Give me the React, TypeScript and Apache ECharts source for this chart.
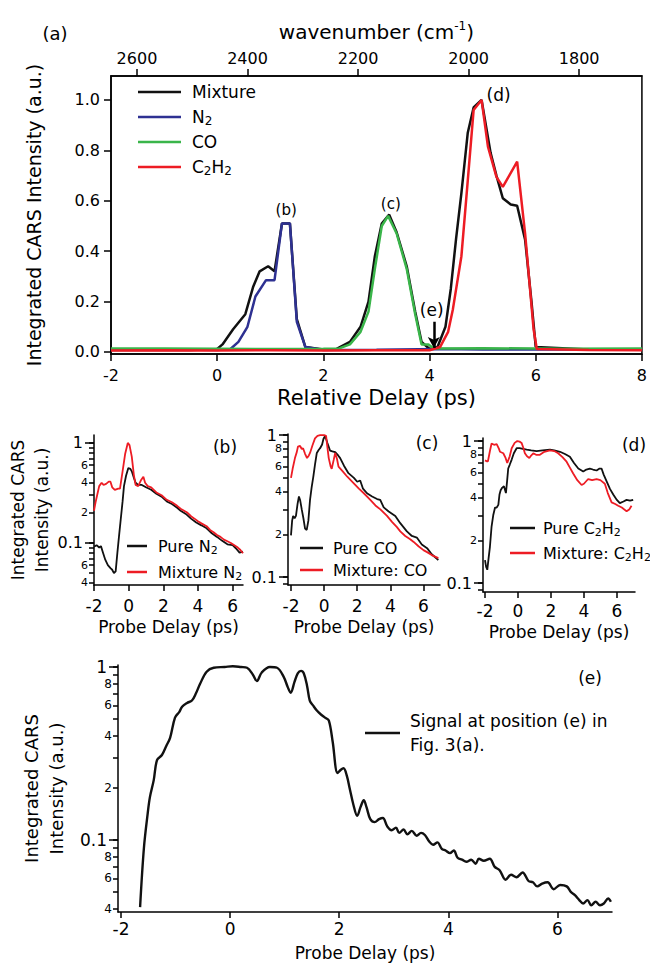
import React, { useEffect, useRef } from 'react';
import * as echarts from 'echarts';

const FONT = "'DejaVu Sans', sans-serif";
const BLACK = '#111111';
const BLUE = '#2e3192';
const GREEN = '#3ab54a';
const RED = '#ed1c24';

// ---------- Panel (a) ----------
const relDelayTicks = [-2, 0, 2, 4, 6, 8];
const wavenumberTicks = [1800, 2000, 2200, 2400, 2600];
const intensityTicks = [0, 0.2, 0.4, 0.6, 0.8, 1.0];

const mixtureA: [number, number][] = [
  [-2, 0.008], [-1.2, 0.009], [-0.5, 0.008], [0, 0.012], [0.1, 0.03], [0.3, 0.09], [0.53, 0.15],
  [0.68, 0.26], [0.8, 0.32], [0.96, 0.34], [1.08, 0.32], [1.22, 0.51], [1.37, 0.51], [1.5, 0.13],
  [1.66, 0.02], [2.0, 0.01], [2.25, 0.012], [2.5, 0.04], [2.7, 0.1], [2.85, 0.2], [2.97, 0.38],
  [3.1, 0.51], [3.24, 0.545], [3.38, 0.475], [3.57, 0.34], [3.73, 0.16], [3.85, 0.04], [4.0, 0.012],
  [4.15, 0.02], [4.3, 0.1], [4.4, 0.25], [4.5, 0.45], [4.6, 0.63], [4.72, 0.87], [4.83, 0.97],
  [4.98, 1.0], [5.15, 0.79], [5.26, 0.7], [5.38, 0.61], [5.53, 0.585], [5.65, 0.58], [5.8, 0.445],
  [5.92, 0.2], [6.0, 0.02], [7, 0.01], [8, 0.01],
];
const n2A: [number, number][] = [
  [-2, 0.009], [-1, 0.011], [0, 0.008], [0.25, 0.012], [0.4, 0.04], [0.57, 0.1], [0.72, 0.22],
  [0.92, 0.285], [1.08, 0.285], [1.22, 0.51], [1.37, 0.51], [1.5, 0.12], [1.66, 0.02], [2.0, 0.008],
  [3.0, 0.009], [4.2, 0.012], [5.0, 0.01], [6.5, 0.011], [8, 0.009],
];
const coA: [number, number][] = [
  [-2, 0.014], [-1, 0.014], [0, 0.013], [1, 0.012], [2, 0.013], [2.3, 0.014], [2.5, 0.03],
  [2.7, 0.08], [2.85, 0.16], [2.97, 0.33], [3.1, 0.5], [3.22, 0.54], [3.38, 0.47], [3.57, 0.33],
  [3.73, 0.15], [3.85, 0.03], [3.98, 0.03], [4.08, 0.014], [5, 0.015], [6.5, 0.013], [8, 0.014],
];
const c2h2A: [number, number][] = [
  [-2, 0.006], [-1, 0.007], [0, 0.006], [1, 0.007], [2, 0.006], [3, 0.007], [4.0, 0.007],
  [4.2, 0.02], [4.35, 0.08], [4.44, 0.17], [4.6, 0.38], [4.71, 0.655], [4.83, 0.96], [4.98, 1.0],
  [5.1, 0.815], [5.26, 0.695], [5.38, 0.655], [5.65, 0.755], [5.8, 0.47], [5.96, 0.09],
  [6.02, 0.012], [7, 0.008], [8, 0.007],
];
const peakMarks = [
  { name: '(b)', coord: [1.3, 0.563], size: 15 },
  { name: '(c)', coord: [3.27, 0.587], size: 15 },
  { name: '(d)', coord: [5.3, 1.02], size: 17 },
  { name: '(e)', coord: [4.04, 0.167], size: 17 },
];
const arrowE = [[4.08, 0.12], [4.08, 0.016]];

// ---------- Panels (b)(c)(d)(e): log axes ----------
const probeTicks = [-2, 0, 2, 4, 6];
const logTicksB = [0.04, 0.05, 0.06, 0.07, 0.08, 0.09, 0.1, 0.2, 0.3, 0.4, 0.5, 0.6, 0.7, 0.8, 0.9, 1];
const logLabelsB = [0.04, 0.06, 0.1, 0.2, 0.4, 0.6, 1];
const logTicksCD = [0.09, 0.1, 0.2, 0.3, 0.4, 0.5, 0.6, 0.7, 0.8, 0.9, 1];
const logLabelsCD = [0.1, 0.2, 0.4, 0.6, 0.8, 1];
const logTicksE = [0.04, 0.05, 0.06, 0.07, 0.08, 0.09, 0.1, 0.2, 0.3, 0.4, 0.5, 0.6, 0.7, 0.8, 0.9, 1];
const logLabelsE = [0.04, 0.06, 0.08, 0.1, 0.2, 0.4, 0.6, 0.8, 1];
const majorLogTicks = [0.1, 1];

const pureN2: [number, number][] = [
  [-2.0, 0.092], [-1.85, 0.095], [-1.7, 0.09], [-1.6, 0.093], [-1.48, 0.08], [-1.35, 0.068],
  [-1.2, 0.06], [-1.05, 0.056], [-0.95, 0.054], [-0.85, 0.05], [-0.75, 0.052], [-0.65, 0.08],
  [-0.55, 0.12], [-0.46, 0.17], [-0.35, 0.26], [-0.27, 0.37], [-0.15, 0.47], [-0.02, 0.56],
  [0.1, 0.55], [0.18, 0.52], [0.3, 0.45], [0.4, 0.4], [0.55, 0.38], [0.76, 0.38], [1.0, 0.36],
  [1.3, 0.34], [1.6, 0.31], [1.9, 0.29], [2.2, 0.26], [2.5, 0.245], [2.8, 0.225], [3.0, 0.21],
  [3.3, 0.195], [3.6, 0.175], [3.9, 0.16], [4.2, 0.15], [4.5, 0.14], [4.8, 0.125], [5.1, 0.115],
  [5.4, 0.105], [5.7, 0.097], [6.0, 0.095], [6.2, 0.088], [6.4, 0.08], [6.6, 0.082],
];
const mixN2: [number, number][] = [
  [-2.0, 0.21], [-1.9, 0.26], [-1.8, 0.31], [-1.7, 0.37], [-1.56, 0.4], [-1.45, 0.38], [-1.3, 0.39],
  [-1.15, 0.41], [-1.05, 0.41], [-0.95, 0.36], [-0.8, 0.34], [-0.6, 0.35], [-0.5, 0.35],
  [-0.35, 0.52], [-0.2, 0.78], [-0.05, 1.0], [0.05, 0.95], [0.18, 0.73], [0.3, 0.48], [0.4, 0.38],
  [0.55, 0.37], [0.7, 0.42], [0.85, 0.46], [0.95, 0.4], [1.1, 0.37], [1.3, 0.36], [1.6, 0.32],
  [1.9, 0.3], [2.2, 0.27], [2.5, 0.255], [2.8, 0.235], [3.0, 0.22], [3.2, 0.21], [3.4, 0.2],
  [3.6, 0.185], [3.8, 0.175], [4.0, 0.165], [4.2, 0.157], [4.5, 0.147], [4.7, 0.135],
  [4.9, 0.128], [5.1, 0.12], [5.3, 0.115], [5.5, 0.108], [5.7, 0.104], [5.9, 0.1], [6.1, 0.095],
  [6.3, 0.09], [6.45, 0.085], [6.6, 0.079],
];
const pureCO: [number, number][] = [
  [-2.0, 0.197], [-1.93, 0.25], [-1.87, 0.27], [-1.78, 0.26], [-1.7, 0.27], [-1.6, 0.33],
  [-1.52, 0.37], [-1.45, 0.35], [-1.35, 0.3], [-1.25, 0.26], [-1.15, 0.22], [-1.05, 0.215],
  [-0.95, 0.25], [-0.85, 0.35], [-0.75, 0.43], [-0.65, 0.51], [-0.55, 0.62], [-0.44, 0.75],
  [-0.32, 0.79], [-0.24, 0.81], [-0.12, 0.86], [-0.04, 0.94], [0.06, 0.99], [0.2, 0.88],
  [0.36, 0.78], [0.5, 0.77], [0.67, 0.76], [0.85, 0.72], [0.97, 0.69], [1.2, 0.61], [1.47, 0.54],
  [1.8, 0.5], [2.0, 0.47], [2.18, 0.48], [2.35, 0.42], [2.59, 0.39], [2.9, 0.37], [3.2, 0.355],
  [3.39, 0.35], [3.6, 0.31], [3.9, 0.29], [4.3, 0.27], [4.6, 0.24], [5.0, 0.21], [5.3, 0.195],
  [5.6, 0.19], [5.9, 0.17], [6.22, 0.16], [6.5, 0.145], [6.9, 0.132],
];
const mixCO: [number, number][] = [
  [-2.0, 0.5], [-1.9, 0.58], [-1.76, 0.69], [-1.65, 0.76], [-1.58, 0.83], [-1.45, 0.84],
  [-1.35, 0.8], [-1.27, 0.81], [-1.15, 0.74], [-1.03, 0.69], [-0.92, 0.72], [-0.85, 0.75],
  [-0.7, 0.85], [-0.55, 0.95], [-0.4, 0.99], [-0.24, 1.0], [0.0, 1.0], [0.12, 0.99], [0.2, 0.82],
  [0.28, 0.69], [0.4, 0.6], [0.46, 0.58], [0.58, 0.67], [0.67, 0.75], [0.78, 0.68], [0.87, 0.6],
  [1.1, 0.56], [1.4, 0.51], [1.78, 0.46], [2.1, 0.42], [2.4, 0.39], [2.79, 0.35], [3.1, 0.32],
  [3.4, 0.3], [3.8, 0.27], [4.1, 0.245], [4.4, 0.225], [4.6, 0.21], [4.9, 0.195], [5.2, 0.185],
  [5.41, 0.177], [5.7, 0.165], [6.0, 0.155], [6.22, 0.15], [6.5, 0.143], [6.9, 0.136],
];
const pureC2H2: [number, number][] = [
  [-2.0, 0.145], [-1.93, 0.13], [-1.86, 0.124], [-1.78, 0.15], [-1.7, 0.18], [-1.6, 0.25],
  [-1.5, 0.3], [-1.39, 0.34], [-1.29, 0.34], [-1.19, 0.355], [-1.12, 0.42], [-1.05, 0.45],
  [-0.95, 0.47], [-0.85, 0.48], [-0.73, 0.43], [-0.66, 0.52], [-0.59, 0.64], [-0.5, 0.68],
  [-0.38, 0.74], [-0.25, 0.82], [-0.08, 0.89], [0.1, 0.89], [0.3, 0.88], [0.53, 0.87], [0.8, 0.86],
  [1.13, 0.85], [1.5, 0.86], [1.94, 0.87], [2.2, 0.86], [2.55, 0.84], [2.85, 0.81], [3.15, 0.775],
  [3.4, 0.7], [3.66, 0.64], [3.96, 0.61], [4.15, 0.63], [4.36, 0.64], [4.55, 0.63], [4.77, 0.62],
  [4.95, 0.64], [5.07, 0.64], [5.2, 0.58], [5.38, 0.52], [5.58, 0.46], [5.78, 0.42], [6.0, 0.385],
  [6.18, 0.365], [6.4, 0.375], [6.59, 0.385], [6.8, 0.38], [6.99, 0.385],
];
const mixC2H2: [number, number][] = [
  [-2.0, 0.73], [-1.9, 0.72], [-1.82, 0.72], [-1.7, 0.85], [-1.6, 0.96], [-1.45, 0.94],
  [-1.29, 0.95], [-1.15, 0.88], [-1.09, 0.84], [-0.89, 0.82], [-0.75, 0.76], [-0.65, 0.7],
  [-0.5, 0.78], [-0.38, 0.89], [-0.2, 0.97], [-0.04, 1.0], [0.1, 0.99], [0.22, 0.97], [0.32, 0.9],
  [0.42, 0.82], [0.55, 0.78], [0.69, 0.76], [0.8, 0.79], [0.93, 0.82], [1.1, 0.8], [1.33, 0.8],
  [1.6, 0.84], [1.94, 0.86], [2.2, 0.85], [2.44, 0.82], [2.7, 0.77], [2.95, 0.715], [3.15, 0.65],
  [3.35, 0.59], [3.6, 0.53], [3.86, 0.49], [4.0, 0.5], [4.26, 0.54], [4.5, 0.53], [4.77, 0.54],
  [5.0, 0.53], [5.27, 0.5], [5.45, 0.43], [5.68, 0.37], [5.9, 0.36], [6.08, 0.35], [6.3, 0.34],
  [6.59, 0.32], [6.75, 0.33], [6.89, 0.35],
];
const signalE: [number, number][] = [
  [-1.65, 0.041], [-1.58, 0.09], [-1.51, 0.143], [-1.47, 0.177], [-1.4, 0.222], [-1.34, 0.29],
  [-1.25, 0.31], [-1.17, 0.35], [-1.1, 0.39], [-1.01, 0.51], [-0.93, 0.55], [-0.88, 0.59],
  [-0.79, 0.62], [-0.7, 0.64], [-0.63, 0.7], [-0.55, 0.8], [-0.43, 0.94], [-0.3, 0.99],
  [-0.1, 1.0], [0.05, 1.01], [0.2, 1.0], [0.31, 0.99], [0.42, 0.9], [0.49, 0.83], [0.58, 0.93],
  [0.73, 1.0], [0.86, 0.99], [0.98, 0.88], [1.06, 0.76], [1.11, 0.71], [1.18, 0.82], [1.24, 0.92],
  [1.3, 0.95], [1.35, 0.92], [1.41, 0.78], [1.46, 0.64], [1.52, 0.6], [1.59, 0.56], [1.67, 0.53],
  [1.74, 0.51], [1.81, 0.49], [1.88, 0.37], [1.97, 0.244], [2.03, 0.255], [2.08, 0.26],
  [2.14, 0.235], [2.19, 0.2], [2.26, 0.16], [2.33, 0.138], [2.39, 0.155], [2.45, 0.17],
  [2.5, 0.155], [2.57, 0.132], [2.65, 0.127], [2.73, 0.132], [2.8, 0.134], [2.88, 0.12],
  [2.96, 0.114], [3.04, 0.118], [3.1, 0.11], [3.18, 0.115], [3.25, 0.108], [3.33, 0.113],
  [3.42, 0.106], [3.5, 0.11], [3.57, 0.107], [3.65, 0.098], [3.72, 0.094], [3.8, 0.097],
  [3.88, 0.089], [3.95, 0.087], [4.03, 0.084], [4.1, 0.087], [4.17, 0.079], [4.25, 0.077],
  [4.33, 0.075], [4.42, 0.077], [4.5, 0.073], [4.56, 0.078], [4.65, 0.076], [4.76, 0.078],
  [4.85, 0.07], [4.94, 0.067], [5.05, 0.059], [5.15, 0.063], [5.25, 0.061], [5.36, 0.065],
  [5.47, 0.058], [5.55, 0.057], [5.63, 0.054], [5.72, 0.056], [5.82, 0.057], [5.93, 0.052],
  [6.05, 0.055], [6.17, 0.054], [6.25, 0.05], [6.32, 0.048], [6.4, 0.045], [6.47, 0.043],
  [6.55, 0.045], [6.62, 0.042], [6.7, 0.044], [6.78, 0.042], [6.85, 0.043], [6.93, 0.046],
  [6.98, 0.044],
];

const subFmt = (s: string) =>
  s.replace(/C2H2/g, 'C{sub|2}H{sub|2}').replace(/N2/g, 'N{sub|2}');

const logLabel = (v: number) => {
  if (Math.abs(v - 1) < 1e-6) return '{big|1}';
  if (Math.abs(v - 0.1) < 1e-6) return '{big|0.1}';
  const e = Math.floor(Math.log10(v) + 1e-9);
  const m = Math.round(v / Math.pow(10, e));
  return '{small|' + m + '}';
};

const axisLineStyle = { color: '#000', width: 1.5 };

function probeX(gridIndex: number, min: number, max: number, margin: number, nameGap: number, fs: number, nfs: number) {
  return {
    type: 'value', gridIndex, min, max,
    axisLine: { show: true, onZero: false, lineStyle: axisLineStyle },
    axisTick: { show: true, customValues: probeTicks, length: 6, lineStyle: axisLineStyle },
    axisLabel: { customValues: probeTicks, fontSize: fs, margin, color: '#000', fontFamily: FONT, formatter: (v: number) => String(v) },
    splitLine: { show: false },
    name: 'Probe Delay (ps)', nameLocation: 'middle', nameGap,
    nameTextStyle: { fontSize: nfs, color: '#000', fontFamily: FONT },
  };
}

function logY(gridIndex: number, min: number, max: number, ticks: number[], labels: number[], big: number, small: number, name?: string, nameGap?: number, nfs?: number, nlh?: number) {
  const ax: any = {
    type: 'log', logBase: 10, gridIndex, min, max,
    axisLine: { show: true, onZero: false, lineStyle: axisLineStyle },
    axisTick: { show: true, customValues: ticks, length: 5, lineStyle: axisLineStyle },
    axisLabel: {
      customValues: labels, margin: 6, color: '#000', formatter: logLabel,
      rich: {
        big: { fontSize: big, fontFamily: FONT, color: '#000', padding: [0, 5, 0, 0] },
        small: { fontSize: small, fontFamily: FONT, color: '#000' },
      },
    },
    splitLine: { show: false },
    minorTick: { show: false },
  };
  if (name) {
    ax.name = name;
    ax.nameLocation = 'middle';
    ax.nameRotate = 90;
    ax.nameGap = nameGap;
    ax.nameTextStyle = { fontSize: nfs, lineHeight: nlh, color: '#000', fontFamily: FONT, align: 'center' };
  }
  return ax;
}

function majorY(gridIndex: number, min: number, max: number) {
  return {
    type: 'log', logBase: 10, gridIndex, min, max, position: 'left',
    axisLine: { show: false, onZero: false },
    axisTick: { show: true, customValues: majorLogTicks, length: 9, lineStyle: axisLineStyle },
    axisLabel: { show: false },
    splitLine: { show: false },
  };
}

function lineSeries(name: string, data: [number, number][], color: string, xi: number, yi: number, width: number, smooth: number | boolean = false) {
  return {
    type: 'line', name, data, xAxisIndex: xi, yAxisIndex: yi, showSymbol: false, symbol: 'none',
    smooth, color, lineStyle: { color, width }, itemStyle: { color }, silent: true,
  };
}

function legend(names: string[], left: number, top: number, iw: number, gap: number, fs: number, padLeft: number) {
  return {
    show: true, orient: 'vertical', left, top, data: names, icon: 'rect',
    itemWidth: iw, itemHeight: 2.5, itemGap: gap, selectedMode: false, padding: 0,
    formatter: subFmt,
    textStyle: {
      fontSize: fs, fontFamily: FONT, color: '#000', lineHeight: 20, padding: [0, 0, 0, padLeft],
      rich: { sub: { fontSize: Math.round(fs * 0.68), fontFamily: FONT, color: '#000', lineHeight: 10, verticalAlign: 'bottom' } },
    },
  };
}

export default function App() {
  const ref = useRef<HTMLDivElement>(null);
  useEffect(() => {
    document.body.style.margin = '0';
    const chart = echarts.init(ref.current!, null, { renderer: 'svg' });

    const mixtureSeries: any = lineSeries('Mixture', mixtureA, BLACK, 0, 0, 2.5);
    mixtureSeries.markPoint = {
      symbol: 'circle', symbolSize: 1, itemStyle: { color: 'rgba(0,0,0,0)' }, silent: true,
      data: peakMarks.map((p) => ({
        name: p.name, coord: p.coord,
        label: { show: true, position: 'inside', formatter: p.name, fontSize: p.size, fontFamily: FONT, color: '#000' },
      })),
    };
    mixtureSeries.markLine = {
      silent: true, symbol: ['none', 'arrow'], symbolSize: [9, 11],
      lineStyle: { color: '#000', width: 2.5, type: 'solid' }, label: { show: false },
      data: [[{ coord: arrowE[0] }, { coord: arrowE[1] }]],
    };

    const option: any = {
      animation: false,
      backgroundColor: '#fff',
      textStyle: { fontFamily: FONT, color: '#000' },
      grid: [
        { left: 111, top: 76, width: 533, height: 278, show: true, borderColor: '#000', borderWidth: 1.5, backgroundColor: 'transparent' },
        { left: 94, top: 435, width: 149, height: 150 },
        { left: 288, top: 434, width: 152, height: 151 },
        { left: 483, top: 438, width: 152, height: 154 },
        { left: 118, top: 665, width: 494, height: 247 },
      ],
      xAxis: [
        {
          type: 'value', gridIndex: 0, min: -2, max: 8,
          axisLine: { show: true, onZero: false, lineStyle: axisLineStyle },
          axisTick: { show: true, customValues: relDelayTicks, length: 7, lineStyle: axisLineStyle },
          axisLabel: { customValues: relDelayTicks, fontSize: 16, margin: 13, color: '#000', fontFamily: FONT, formatter: (v: number) => String(v) },
          splitLine: { show: false },
          name: 'Relative Delay (ps)', nameLocation: 'middle', nameGap: 33,
          nameTextStyle: { fontSize: 21, color: '#000', fontFamily: FONT },
        },
        {
          type: 'value', gridIndex: 0, position: 'top', min: 1686.5, max: 2647, inverse: true,
          axisLine: { show: true, onZero: false, lineStyle: axisLineStyle },
          axisTick: { show: true, customValues: wavenumberTicks, length: 7, lineStyle: axisLineStyle },
          axisLabel: { customValues: wavenumberTicks, fontSize: 16, margin: 10, color: '#000', fontFamily: FONT, formatter: (v: number) => String(v) },
          splitLine: { show: false },
          name: 'wavenumber (cm{sup|-1})', nameLocation: 'middle', nameGap: 32,
          nameTextStyle: {
            fontSize: 20, color: '#000', fontFamily: FONT, lineHeight: 24,
            rich: { sup: { fontSize: 12, fontFamily: FONT, color: '#000', lineHeight: 12, verticalAlign: 'top' } },
          },
        },
        probeX(1, -2, 6.6, 12, 33, 17, 17),
        probeX(2, -2.18, 7.0, 12, 33, 17, 17),
        probeX(3, -2.12, 7.1, 10, 31, 17, 17),
        probeX(4, -2.055, 7.0, 8, 32, 17, 17),
      ],
      yAxis: [
        {
          type: 'value', gridIndex: 0, min: -0.008, max: 1.095,
          axisLine: { show: true, onZero: false, lineStyle: axisLineStyle },
          axisTick: { show: true, customValues: intensityTicks, length: 7, lineStyle: axisLineStyle },
          axisLabel: { customValues: intensityTicks, fontSize: 16, margin: 11, color: '#000', fontFamily: FONT, formatter: (v: number) => v.toFixed(1) },
          splitLine: { show: false },
          name: 'Integrated CARS Intensity (a.u.)', nameLocation: 'middle', nameRotate: 90, nameGap: 68,
          nameTextStyle: { fontSize: 19, color: '#000', fontFamily: FONT },
        },
        logY(1, 0.038, 1.2, logTicksB, logLabelsB, 16, 11, 'Integrated CARS\nIntensity (a.u.)', 38, 17, 24),
        logY(2, 0.088, 1.02, logTicksCD, logLabelsCD, 16, 11),
        logY(3, 0.0865, 1.05, logTicksCD, logLabelsCD, 16, 11),
        logY(4, 0.0384, 1.027, logTicksE, logLabelsE, 17, 12, 'Integrated CARS\nIntensity (a.u.)', 29, 18, 25),
        majorY(1, 0.038, 1.2),
        majorY(2, 0.088, 1.02),
        majorY(3, 0.0865, 1.05),
        majorY(4, 0.0384, 1.027),
      ],
      legend: [
        legend(['Mixture', 'N2', 'CO', 'C2H2'], 138, 82, 43, 5, 17, 6),
        legend(['Pure N2', 'Mixture N2'], 127, 536, 20, 6, 16, 6),
        legend(['Pure CO', 'Mixture: CO'], 300, 538, 23, 2, 16, 5),
        legend(['Pure C2H2', 'Mixture: C2H2'], 510, 518, 25, 5, 16, 3),
        {
          show: true, orient: 'vertical', left: 365, top: 697, data: ['Signal at position (e) in\nFig. 3(a).'],
          icon: 'rect', itemWidth: 35, itemHeight: 2.5, selectedMode: false, padding: 0,
          textStyle: { fontSize: 17, fontFamily: FONT, color: '#000', lineHeight: 24, padding: [24, 0, 0, 5] },
        },
      ],
      graphic: [
        { type: 'text', x: 55, y: 33, style: { text: '(a)', fontSize: 18, fontFamily: FONT, fill: '#000', textAlign: 'center', textVerticalAlign: 'middle' } },
        { type: 'text', x: 225, y: 447, style: { text: '(b)', fontSize: 17, fontFamily: FONT, fill: '#000', textAlign: 'center', textVerticalAlign: 'middle' } },
        { type: 'text', x: 427, y: 443, style: { text: '(c)', fontSize: 17, fontFamily: FONT, fill: '#000', textAlign: 'center', textVerticalAlign: 'middle' } },
        { type: 'text', x: 634, y: 445, style: { text: '(d)', fontSize: 17, fontFamily: FONT, fill: '#000', textAlign: 'center', textVerticalAlign: 'middle' } },
        { type: 'text', x: 590, y: 678, style: { text: '(e)', fontSize: 17, fontFamily: FONT, fill: '#000', textAlign: 'center', textVerticalAlign: 'middle' } },
      ],
      series: [
        mixtureSeries,
        lineSeries('N2', n2A, BLUE, 0, 0, 2.5),
        lineSeries('CO', coA, GREEN, 0, 0, 2.5),
        lineSeries('C2H2', c2h2A, RED, 0, 0, 2.5),
        lineSeries('Pure N2', pureN2, BLACK, 2, 1, 1.8),
        lineSeries('Mixture N2', mixN2, RED, 2, 1, 1.8),
        lineSeries('Pure CO', pureCO, BLACK, 3, 2, 1.8),
        lineSeries('Mixture: CO', mixCO, RED, 3, 2, 1.8),
        lineSeries('Pure C2H2', pureC2H2, BLACK, 4, 3, 1.8),
        lineSeries('Mixture: C2H2', mixC2H2, RED, 4, 3, 1.8),
        lineSeries('Signal at position (e) in\nFig. 3(a).', signalE, BLACK, 5, 4, 2.4, 0.35),
      ],
    };
    chart.setOption(option);
    return () => chart.dispose();
  }, []);
  return <div ref={ref} style={{ width: 650, height: 966, background: '#fff' }} />;
}
